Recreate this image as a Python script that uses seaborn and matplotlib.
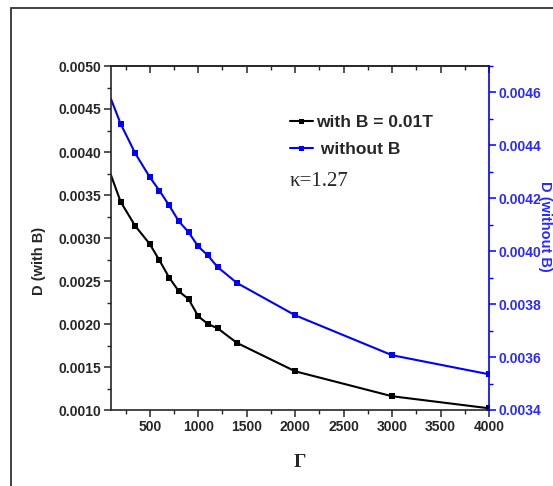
import matplotlib
matplotlib.use("Agg")
import matplotlib.pyplot as plt
from matplotlib.patches import Rectangle
from matplotlib.ticker import MultipleLocator, FormatStrFormatter
import seaborn as sns

# Gamma values (first point has no marker, line only)
gamma = [100, 200, 350, 500, 600, 700, 800, 900, 1000, 1100, 1200, 1400, 2000, 3000, 4000]
# D with magnetic field (left axis)
d_with_b = [0.00373, 0.00342, 0.00314, 0.00293, 0.00274, 0.00254, 0.00238, 0.00229,
            0.00209, 0.00200, 0.00195, 0.00178, 0.00145, 0.00116, 0.00102]
# D without magnetic field (right axis)
d_without_b = [0.004575, 0.004481, 0.004370, 0.004280, 0.004229, 0.004173, 0.004113, 0.004072,
               0.004018, 0.003984, 0.003940, 0.003880, 0.003758, 0.003607, 0.003535]

sns.set_style("ticks")
plt.rcParams["font.family"] = ["Liberation Sans", "DejaVu Sans"]
plt.rcParams["font.weight"] = "bold"

W, H = 553, 486
fig = plt.figure(figsize=(W / 100, H / 100), dpi=100)
ax = fig.add_axes([111 / W, 1 - 410 / H, 378 / W, 344 / H])
ax2 = ax.twinx()

blue = "#0000ff"
tick_blue = "#2a2aff"
marks = list(range(1, len(gamma)))

sns.lineplot(x=gamma, y=d_with_b, ax=ax, color="black", lw=1.5, marker="s",
             markersize=4.5, markeredgewidth=0, markevery=marks, label="with B = 0.01T",
             legend=False)
sns.lineplot(x=gamma, y=d_without_b, ax=ax2, color=blue, lw=1.5, marker="s",
             markersize=4.5, markeredgewidth=0, markevery=marks, label=" without B",
             legend=False)

ax.set_xlim(100, 4000)
ax.set_ylim(0.0010, 0.0050)
ax2.set_ylim(0.0034, 0.0047)

ax.xaxis.set_major_locator(MultipleLocator(500))
ax.xaxis.set_minor_locator(MultipleLocator(250))
ax.yaxis.set_major_locator(MultipleLocator(0.0005))
ax.yaxis.set_minor_locator(MultipleLocator(0.00025))
ax.yaxis.set_major_formatter(FormatStrFormatter("%.4f"))
ax2.yaxis.set_major_locator(MultipleLocator(0.0002))
ax2.yaxis.set_minor_locator(MultipleLocator(0.0001))
ax2.yaxis.set_major_formatter(FormatStrFormatter("%.4f"))

ax.set_xticks([500, 1000, 1500, 2000, 2500, 3000, 3500, 4000])

for a in (ax, ax2):
    for s in a.spines.values():
        s.set_linewidth(1.2)
ax.spines["right"].set_visible(False)
ax2.spines["left"].set_visible(False)
ax2.spines["top"].set_visible(False)
ax2.spines["bottom"].set_visible(False)
ax2.spines["right"].set_color(blue)

ax.tick_params(axis="both", which="major", direction="out", length=5, width=1.1,
               labelsize=10, pad=2)
ax.tick_params(axis="both", which="minor", direction="out", length=3, width=1.0)
ax2.tick_params(axis="y", which="major", direction="out", length=5, width=1.1,
                labelsize=10, color=blue, labelcolor=tick_blue, pad=2)
ax2.tick_params(axis="y", which="minor", direction="out", length=3, width=1.0, color=blue)

top = ax.secondary_xaxis("top")
top.xaxis.set_major_locator(MultipleLocator(500))
top.xaxis.set_minor_locator(MultipleLocator(250))
top.tick_params(which="major", direction="in", length=5, width=1.1, labeltop=False)
top.tick_params(which="minor", direction="in", length=3, width=1.0)
top.spines["top"].set_linewidth(1.2)

ax.set_xlabel("")
ax.set_ylabel("")
ax2.set_ylabel("")

fig.text(39 / W, 1 - 261 / H, "D (with B)", rotation=90, ha="center", va="center",
         fontsize=10.5, fontweight="bold")
fig.text(545 / W, 1 - 226 / H, "D (without B)", rotation=270, ha="center", va="center",
         fontsize=10.5, fontweight="bold", color=tick_blue)
fig.text(300 / W, 1 - 462 / H, "Γ", ha="center", va="center", fontsize=14,
         fontweight="bold", family=["Liberation Serif", "DejaVu Serif"])

h1 = ax.get_lines()[0]
h2 = ax2.get_lines()[0]
leg = fig.legend([h1, h2], ["with B = 0.01T", " without B"], loc="upper left",
                 bbox_to_anchor=(290 / W, 1 - 115 / H), frameon=False, fontsize=12.5,
                 handlelength=1.3, handletextpad=0.2, labelspacing=0.7,
                 borderpad=0, borderaxespad=0, markerscale=0.8)
fig.text(290 / W, 1 - 182 / H, "κ=1.27", ha="left", va="center", fontsize=15,
         family=["Liberation Serif", "DejaVu Serif"], fontweight="normal")

fig.add_artist(Rectangle((11 / W, -0.1), 1.2, 1.1 - 8 / H, transform=fig.transFigure,
                         fill=False, lw=1.3, ec="#333333"))

fig.savefig("out.png", dpi=100)
